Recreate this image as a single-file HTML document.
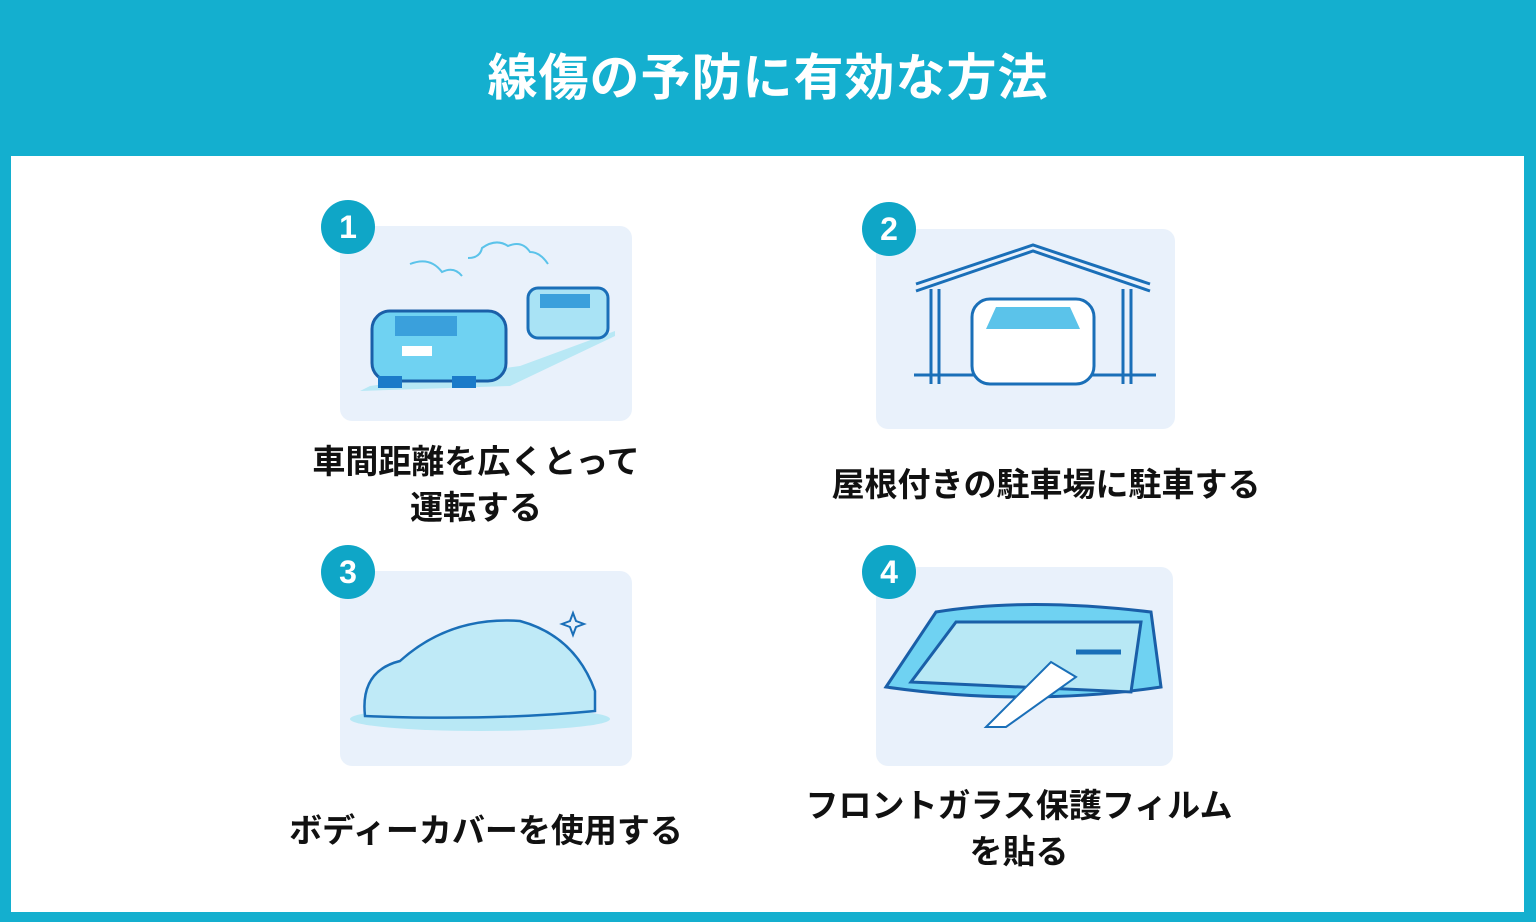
<!DOCTYPE html>
<html><head><meta charset="utf-8"><style>
body{margin:0;width:1536px;height:922px;background:#14afcf;position:relative;overflow:hidden;font-family:"Liberation Sans","Noto Sans CJK JP",sans-serif}
.title{position:absolute;left:0;top:0;width:1536px;height:156px;line-height:156px;text-align:center;color:#fff;font-size:50px;font-weight:700;letter-spacing:1px}
.panel{position:absolute;left:11px;top:156px;width:1513px;height:756px;background:#fff}
.card{position:absolute;background:#e9f1fb;border-radius:12px}
.badge{position:absolute;width:54px;height:54px;border-radius:50%;background:#0fa6c7;color:#fff;font-weight:700;font-size:32px;text-align:center;line-height:54px}
.lbl{position:absolute;text-align:center;font-size:33px;font-weight:700;color:#111;line-height:46px;white-space:nowrap}
svg{position:absolute;left:0;top:0}
</style></head><body>
<div class="title">線傷の予防に有効な方法</div>
<div class="panel"></div>

<div class="card" style="left:340px;top:226px;width:292px;height:195px">
<svg width="292" height="195"><g fill="none" stroke="#5bc3ea" stroke-width="2"><path d="M70 38q20-8 32 8q12-6 20 4"/><path d="M128 32q12 0 14-10q14-10 26-2q14-6 22 6q10 0 18 12"/></g>
<path d="M20 165 L170 160 L275 110 L275 105 L180 140 L30 160Z" fill="#b8e8f5"/>
<rect x="188" y="62" width="80" height="50" rx="10" fill="#a9e3f5" stroke="#1a6fb8" stroke-width="3"/>
<rect x="200" y="68" width="50" height="14" fill="#3aa0dc"/>
<rect x="32" y="85" width="134" height="70" rx="18" fill="#6fd2f2" stroke="#1a5fa8" stroke-width="3"/>
<rect x="55" y="90" width="62" height="20" fill="#3aa0dc"/>
<rect x="62" y="120" width="30" height="10" fill="#fff"/>
<rect x="38" y="150" width="24" height="12" fill="#1b7bc9"/><rect x="112" y="150" width="24" height="12" fill="#1b7bc9"/>
</svg></div>
<div class="badge" style="left:321px;top:200px">1</div>
<div class="lbl" style="left:276px;top:439px;width:400px">車間距離を広くとって<br>運転する</div>

<div class="card" style="left:876px;top:229px;width:299px;height:200px">
<svg width="299" height="200"><g fill="none" stroke="#1a6fb8" stroke-width="3"><path d="M40 62 L157 22 L274 62"/><path d="M40 55 L157 16 L274 55"/><path d="M55 60V155M63 60V155M247 60V155M255 60V155"/><path d="M38 146H280"/></g>
<rect x="96" y="70" width="122" height="85" rx="18" fill="#fff" stroke="#1a6fb8" stroke-width="3"/>
<path d="M110 100 L120 78 H194 L204 100Z" fill="#5bc3ea"/>
</svg></div>
<div class="badge" style="left:862px;top:202px">2</div>
<div class="lbl" style="left:816px;top:462px;width:460px">屋根付きの駐車場に駐車する</div>

<div class="card" style="left:340px;top:571px;width:292px;height:195px">
<svg width="292" height="195"><ellipse cx="140" cy="148" rx="130" ry="12" fill="#b8e8f5"/>
<path d="M25 145 Q20 100 60 90 Q110 45 180 50 Q235 65 255 120 L255 140 Q150 150 25 145Z" fill="#bfeaf7" stroke="#1a6fb8" stroke-width="2.5"/>
<path d="M233 42l3 8 8 3-8 3-3 8-3-8-8-3 8-3z" fill="none" stroke="#1a6fb8" stroke-width="2"/></svg></div>
<div class="badge" style="left:321px;top:545px">3</div>
<div class="lbl" style="left:266px;top:808px;width:440px">ボディーカバーを使用する</div>

<div class="card" style="left:876px;top:567px;width:297px;height:199px">
<svg width="297" height="199"><path d="M10 120 L60 45 Q150 30 275 45 L285 120 Q150 140 10 120Z" fill="#6fd2f2" stroke="#1a5fa8" stroke-width="3"/>
<path d="M35 115 L80 55 H265 L255 125Z" fill="#b8e8f5" stroke="#1a5fa8" stroke-width="3"/>
<path d="M110 160 L175 95 L200 110 L130 160Z" fill="#fff" stroke="#1a6fb8" stroke-width="2"/>
<path d="M200 85 H245" stroke="#1a6fb8" stroke-width="5"/></svg></div>
<div class="badge" style="left:862px;top:545px">4</div>
<div class="lbl" style="left:779px;top:783px;width:480px">フロントガラス保護フィルム<br>を貼る</div>
</body></html>
